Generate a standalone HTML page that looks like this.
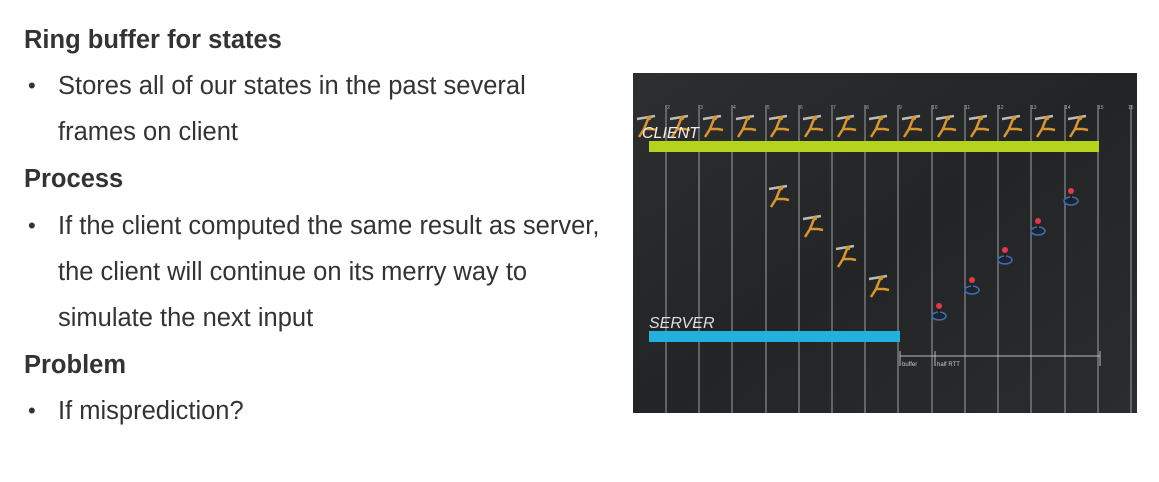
<!DOCTYPE html>
<html><head><meta charset="utf-8"><style>
body{margin:0;width:1159px;height:482px;background:#fff;position:relative;overflow:hidden;font-family:"Liberation Sans",Arial,sans-serif;color:#333}
.t{position:absolute;font-size:25.5px;line-height:28px;white-space:nowrap}
.b{font-weight:bold}
.bul{position:absolute;font-size:22px;line-height:28px;left:28px}
</style></head><body>
<div class="t b" style="left:24px;top:26px">Ring buffer for states</div>
<div class="bul" style="top:72px">•</div>
<div class="t" style="left:58px;top:72px">Stores all of our states in the past several</div>
<div class="t" style="left:58px;top:118px">frames on client</div>
<div class="t b" style="left:24px;top:165px">Process</div>
<div class="bul" style="top:212px">•</div>
<div class="t" style="left:58px;top:212px">If the client computed the same result as server,</div>
<div class="t" style="left:58px;top:258px">the client will continue on its merry way to</div>
<div class="t" style="left:58px;top:304px">simulate the next input</div>
<div class="t b" style="left:24px;top:351px">Problem</div>
<div class="bul" style="top:397px">•</div>
<div class="t" style="left:58px;top:397px">If misprediction?</div>

<svg style="position:absolute;left:633px;top:73px" width="504" height="340" viewBox="633 73 504 340">
<defs>
<linearGradient id="g" x1="0" y1="0" x2="1" y2="1"><stop offset="0" stop-color="#2c2e30"/><stop offset="0.5" stop-color="#222426"/><stop offset="1" stop-color="#2a2c2e"/></linearGradient>
<g id="run"><path d="M-9,-6 L9,-9" stroke="#bbb" stroke-width="2.5"/><path d="M2,-6 L-2,4 L-7,12 M-2,4 L6,4 L11,5" stroke="#d9962e" stroke-width="2.5" fill="none"/><circle cx="3" cy="-7" r="2.3" fill="#d9962e"/></g>
<g id="joy"><ellipse cx="0" cy="6" rx="7" ry="4" fill="#1d2330" stroke="#3d6fb0" stroke-width="1.5"/><line x1="0" y1="-3" x2="0" y2="5" stroke="#222" stroke-width="2"/><circle cx="0" cy="-4" r="3" fill="#e03a4a"/></g>
</defs>
<rect x="633" y="73" width="504" height="340" fill="url(#g)"/>
<g stroke="#8a8c8e" stroke-width="1.2">
<line x1="666" y1="105" x2="666" y2="413"/><line x1="699" y1="105" x2="699" y2="413"/><line x1="732" y1="105" x2="732" y2="413"/><line x1="766" y1="105" x2="766" y2="413"/><line x1="799" y1="105" x2="799" y2="413"/><line x1="832" y1="105" x2="832" y2="413"/><line x1="865" y1="105" x2="865" y2="413"/><line x1="898" y1="105" x2="898" y2="413"/><line x1="932" y1="105" x2="932" y2="413"/><line x1="965" y1="105" x2="965" y2="413"/><line x1="998" y1="105" x2="998" y2="413"/><line x1="1031" y1="105" x2="1031" y2="413"/><line x1="1065" y1="105" x2="1065" y2="413"/><line x1="1098" y1="105" x2="1098" y2="413"/><line x1="1131" y1="105" x2="1131" y2="413"/>
</g>
<g fill="#aaa" font-size="5" font-family="Liberation Sans">
<text x="667" y="109">2</text><text x="700" y="109">3</text><text x="733" y="109">4</text><text x="767" y="109">5</text><text x="800" y="109">6</text><text x="833" y="109">7</text><text x="866" y="109">8</text><text x="899" y="109">9</text><text x="932" y="109">10</text><text x="965" y="109">11</text><text x="998" y="109">12</text><text x="1031" y="109">13</text><text x="1065" y="109">14</text><text x="1098" y="109">15</text><text x="1128" y="109">16</text>
</g>
<use href="#run" x="646" y="125"/><use href="#run" x="679" y="125"/><use href="#run" x="712" y="125"/><use href="#run" x="745" y="125"/><use href="#run" x="778" y="125"/><use href="#run" x="812" y="125"/><use href="#run" x="845" y="125"/><use href="#run" x="878" y="125"/><use href="#run" x="911" y="125"/><use href="#run" x="945" y="125"/><use href="#run" x="978" y="125"/><use href="#run" x="1011" y="125"/><use href="#run" x="1044" y="125"/><use href="#run" x="1077" y="125"/>
<text x="642" y="138" fill="#eee" font-size="16" font-style="italic" font-family="Liberation Sans">CLIENT</text>
<rect x="649" y="141" width="450" height="11" fill="#b5d31c"/>
<use href="#run" x="778" y="195"/><use href="#run" x="812" y="225"/><use href="#run" x="845" y="255"/><use href="#run" x="878" y="285"/>
<use href="#joy" x="939" y="310"/><use href="#joy" x="972" y="284"/><use href="#joy" x="1005" y="254"/><use href="#joy" x="1038" y="225"/><use href="#joy" x="1071" y="195"/>
<text x="649" y="328" fill="#ddd" font-size="16" font-style="italic" font-family="Liberation Sans">SERVER</text>
<rect x="649" y="331" width="251" height="11" fill="#22b0dc"/>
<g stroke="#bbb" stroke-width="1"><line x1="900" y1="356" x2="1100" y2="356"/><line x1="900" y1="351" x2="900" y2="366"/><line x1="935" y1="351" x2="935" y2="366"/><line x1="1100" y1="351" x2="1100" y2="366"/></g>
<text x="902" y="366" fill="#ccc" font-size="6" font-family="Liberation Sans">buffer</text>
<text x="937" y="366" fill="#ccc" font-size="6" font-family="Liberation Sans">half RTT</text>
</svg>
</body></html>
